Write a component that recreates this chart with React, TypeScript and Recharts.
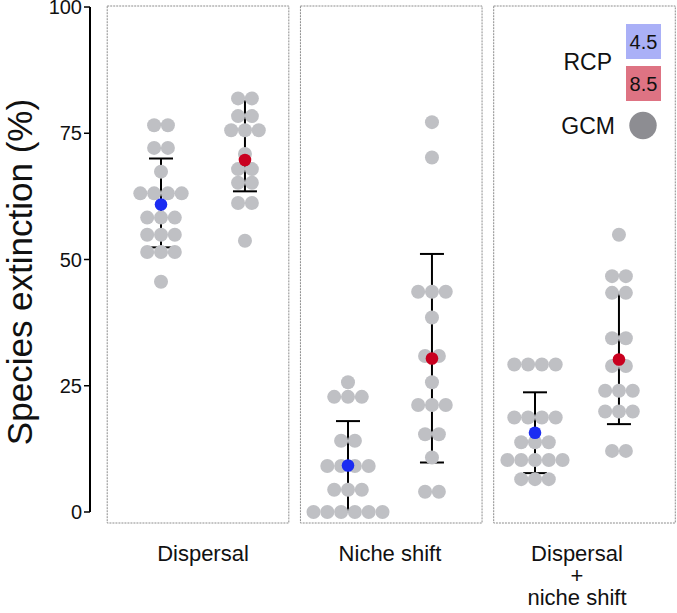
import {
  ScatterChart,
  Scatter,
  XAxis,
  YAxis,
  ErrorBar,
  ReferenceArea,
  ReferenceLine,
  Legend,
} from "recharts";

const FONT = "'Liberation Sans', Arial, Helvetica, sans-serif";

// categories
const GROUPS = ["Dispersal", "Niche shift", "Dispersal\n+\nniche shift"];
const Y_TICKS = [0, 25, 50, 75, 100];

// GCM values (% species extinction), one array per scenario and RCP
const dispersal45 = [76.6, 76.6, 72.1, 72.1, 67.4, 63.1, 63.1, 63.1, 63.1, 58.3, 58.3, 58.3, 54.9, 54.9, 54.9, 51.5, 51.5, 51.5, 45.6];
const dispersal85 = [81.9, 81.9, 78.4, 78.4, 75.6, 75.6, 75.6, 70.9, 67.9, 67.9, 65.2, 65.2, 61.2, 61.2, 53.7];
const niche45 = [25.7, 22.8, 22.8, 22.8, 14.1, 14.1, 9.1, 9.1, 9.1, 9.1, 4.4, 4.4, 4.4, 0, 0, 0, 0, 0, 0];
const niche85 = [77.2, 70.2, 43.6, 43.6, 43.6, 38.5, 30.9, 30.9, 25.7, 21.2, 21.2, 21.2, 15.4, 15.4, 10.8, 4.0, 4.0];
const both45 = [29.2, 29.2, 29.2, 29.2, 18.7, 18.7, 18.7, 18.7, 13.8, 13.8, 13.8, 10.3, 10.3, 10.3, 10.3, 10.3, 6.5, 6.5, 6.5];
const both85 = [54.9, 46.7, 46.7, 43.4, 43.4, 34.4, 34.4, 28.9, 28.9, 24.0, 24.0, 24.0, 19.9, 19.9, 19.9, 12.1, 12.1];

// ensemble means and error bars, per group
const mean45 = [60.9, 9.2, 15.7];
const lo45 = [52.4, 0.1, 7.7];
const hi45 = [70.0, 18.0, 23.7];
const mean85 = [69.7, 30.4, 30.2];
const lo85 = [63.5, 9.8, 17.4];
const hi85 = [81.4, 51.1, 43.4];

// layout (x in "group" units)
const Y_MIN = -2.18;
const Y_MAX = 100.2;
const X_DOMAIN: [number, number] = [-0.3797, 2.7594];
const PANEL_START = 0.1979;
const PANEL_PITCH = 1.0334;
const PANEL_HALF = 0.4856;
const RCP_SHIFT = 0.449;
const DOT_STEP = 0.0738;

const GRAY = "#bfc0c4";
const BLUE = "#1b2cf2";
const RED = "#c9001f";

function swarm(vals: number[], g: number, r: number) {
  const rows = new Map<number, number>();
  vals.forEach((v) => rows.set(v, (rows.get(v) || 0) + 1));
  const out: { x: number; y: number }[] = [];
  rows.forEach((n, v) => {
    for (let i = 0; i < n; i++) {
      out.push({ x: g + r * RCP_SHIFT + (i - (n - 1) / 2) * DOT_STEP, y: v });
    }
  });
  return out;
}

const gcmPoints = [
  ...swarm(dispersal45, 0, 0),
  ...swarm(dispersal85, 0, 1),
  ...swarm(niche45, 1, 0),
  ...swarm(niche85, 1, 1),
  ...swarm(both45, 2, 0),
  ...swarm(both85, 2, 1),
];

const meanRows = (mean: number[], lo: number[], hi: number[], r: number) =>
  mean.map((m, g) => ({ x: g + r * RCP_SHIFT, y: m, err: [m - lo[g], hi[g] - m] }));

const means45 = meanRows(mean45, lo45, hi45, 0);
const means85 = meanRows(mean85, lo85, hi85, 1);

const dot = (r: number, fill: string) => (p: any) =>
  <circle cx={p.cx} cy={p.cy} r={r} fill={fill} />;

const GroupTick = ({ x, y, payload }: any) => {
  const lines = GROUPS[Math.round(payload.value)].split("\n");
  return (
    <text x={x} y={y} textAnchor="middle" fontSize={22} fill="#111" fontFamily={FONT}>
      {lines.map((l, i) => (
        <tspan key={i} x={x} dy={i === 0 ? 38 : 22}>
          {l}
        </tspan>
      ))}
    </text>
  );
};

const YTitle = () => (
  <text
    x={32}
    y={272}
    transform="rotate(-90 32 272)"
    textAnchor="middle"
    fontSize={35}
    fill="#111"
    fontFamily={FONT}
  >
    Species extinction (%)
  </text>
);

const LegendBox = () => (
  <svg width={130} height={130} style={{ fontFamily: FONT }}>
    <text x={62} y={55} textAnchor="end" fontSize={23} fill="#111">RCP</text>
    <rect x={76} y={9} width={35} height={35} fill="#aab0f7" />
    <text x={93.5} y={33.5} textAnchor="middle" fontSize={20} fill="#111">4.5</text>
    <rect x={76} y={51} width={35} height={35} fill="#de7383" />
    <text x={93.5} y={76} textAnchor="middle" fontSize={20} fill="#111">8.5</text>
    <text x={65} y={118.5} textAnchor="end" fontSize={23} fill="#111">GCM</text>
    <circle cx={93} cy={110.5} r={13.7} fill="#8d8d92" />
  </svg>
);

export default function App() {
  return (
    <div style={{ width: 677, height: 613 }}>
      <style>{`body{margin:0}`}</style>
      <ScatterChart width={677} height={613} margin={{ top: 6, right: 0, bottom: 0, left: 0 }}>
        <XAxis
          type="number"
          dataKey="x"
          domain={X_DOMAIN}
          allowDataOverflow
          ticks={GROUPS.map((_, g) => g + RCP_SHIFT / 2)}
          interval={0}
          tick={<GroupTick />}
          tickLine={false}
          axisLine={false}
          tickSize={0}
          tickMargin={0}
          height={90}
        />
        <YAxis
          type="number"
          dataKey="y"
          domain={[Y_MIN, Y_MAX]}
          allowDataOverflow
          ticks={Y_TICKS}
          interval={0}
          width={90}
          axisLine={false}
          tickLine={{ stroke: "#000", strokeWidth: 1.5 }}
          tickSize={6}
          tickMargin={2}
          tick={{ fontSize: 20, fill: "#111", fontFamily: FONT }}
          label={<YTitle />}
        />
        {GROUPS.map((_, g) => (
          <ReferenceArea
            key={g}
            x1={PANEL_START + g * PANEL_PITCH - PANEL_HALF}
            x2={PANEL_START + g * PANEL_PITCH + PANEL_HALF}
            y1={Y_MIN}
            y2={Y_MAX}
            fill="#fff"
            fillOpacity={0}
            stroke="#8c8c8c"
            strokeDasharray="2 1"
            strokeWidth={1}
            ifOverflow="visible"
          />
        ))}
        <ReferenceLine
          segment={[
            { x: X_DOMAIN[0], y: 0 },
            { x: X_DOMAIN[0], y: 100 },
          ]}
          stroke="#000"
          strokeWidth={2}
          ifOverflow="visible"
        />
        <Scatter data={gcmPoints} shape={dot(7, GRAY)} isAnimationActive={false} legendType="none" />
        <Scatter data={means45} shape={dot(6.3, BLUE)} isAnimationActive={false} legendType="none">
          <ErrorBar dataKey="err" direction="y" width={12} stroke="#000" strokeWidth={2} isAnimationActive={false} />
        </Scatter>
        <Scatter data={means85} shape={dot(6.3, RED)} isAnimationActive={false} legendType="none">
          <ErrorBar dataKey="err" direction="y" width={12} stroke="#000" strokeWidth={2} isAnimationActive={false} />
        </Scatter>
        <Legend
          layout="horizontal"
          verticalAlign="middle"
          align="center"
          content={<LegendBox />}
          wrapperStyle={{ left: 550, top: 15, width: 130, height: 130 }}
        />
      </ScatterChart>
    </div>
  );
}
